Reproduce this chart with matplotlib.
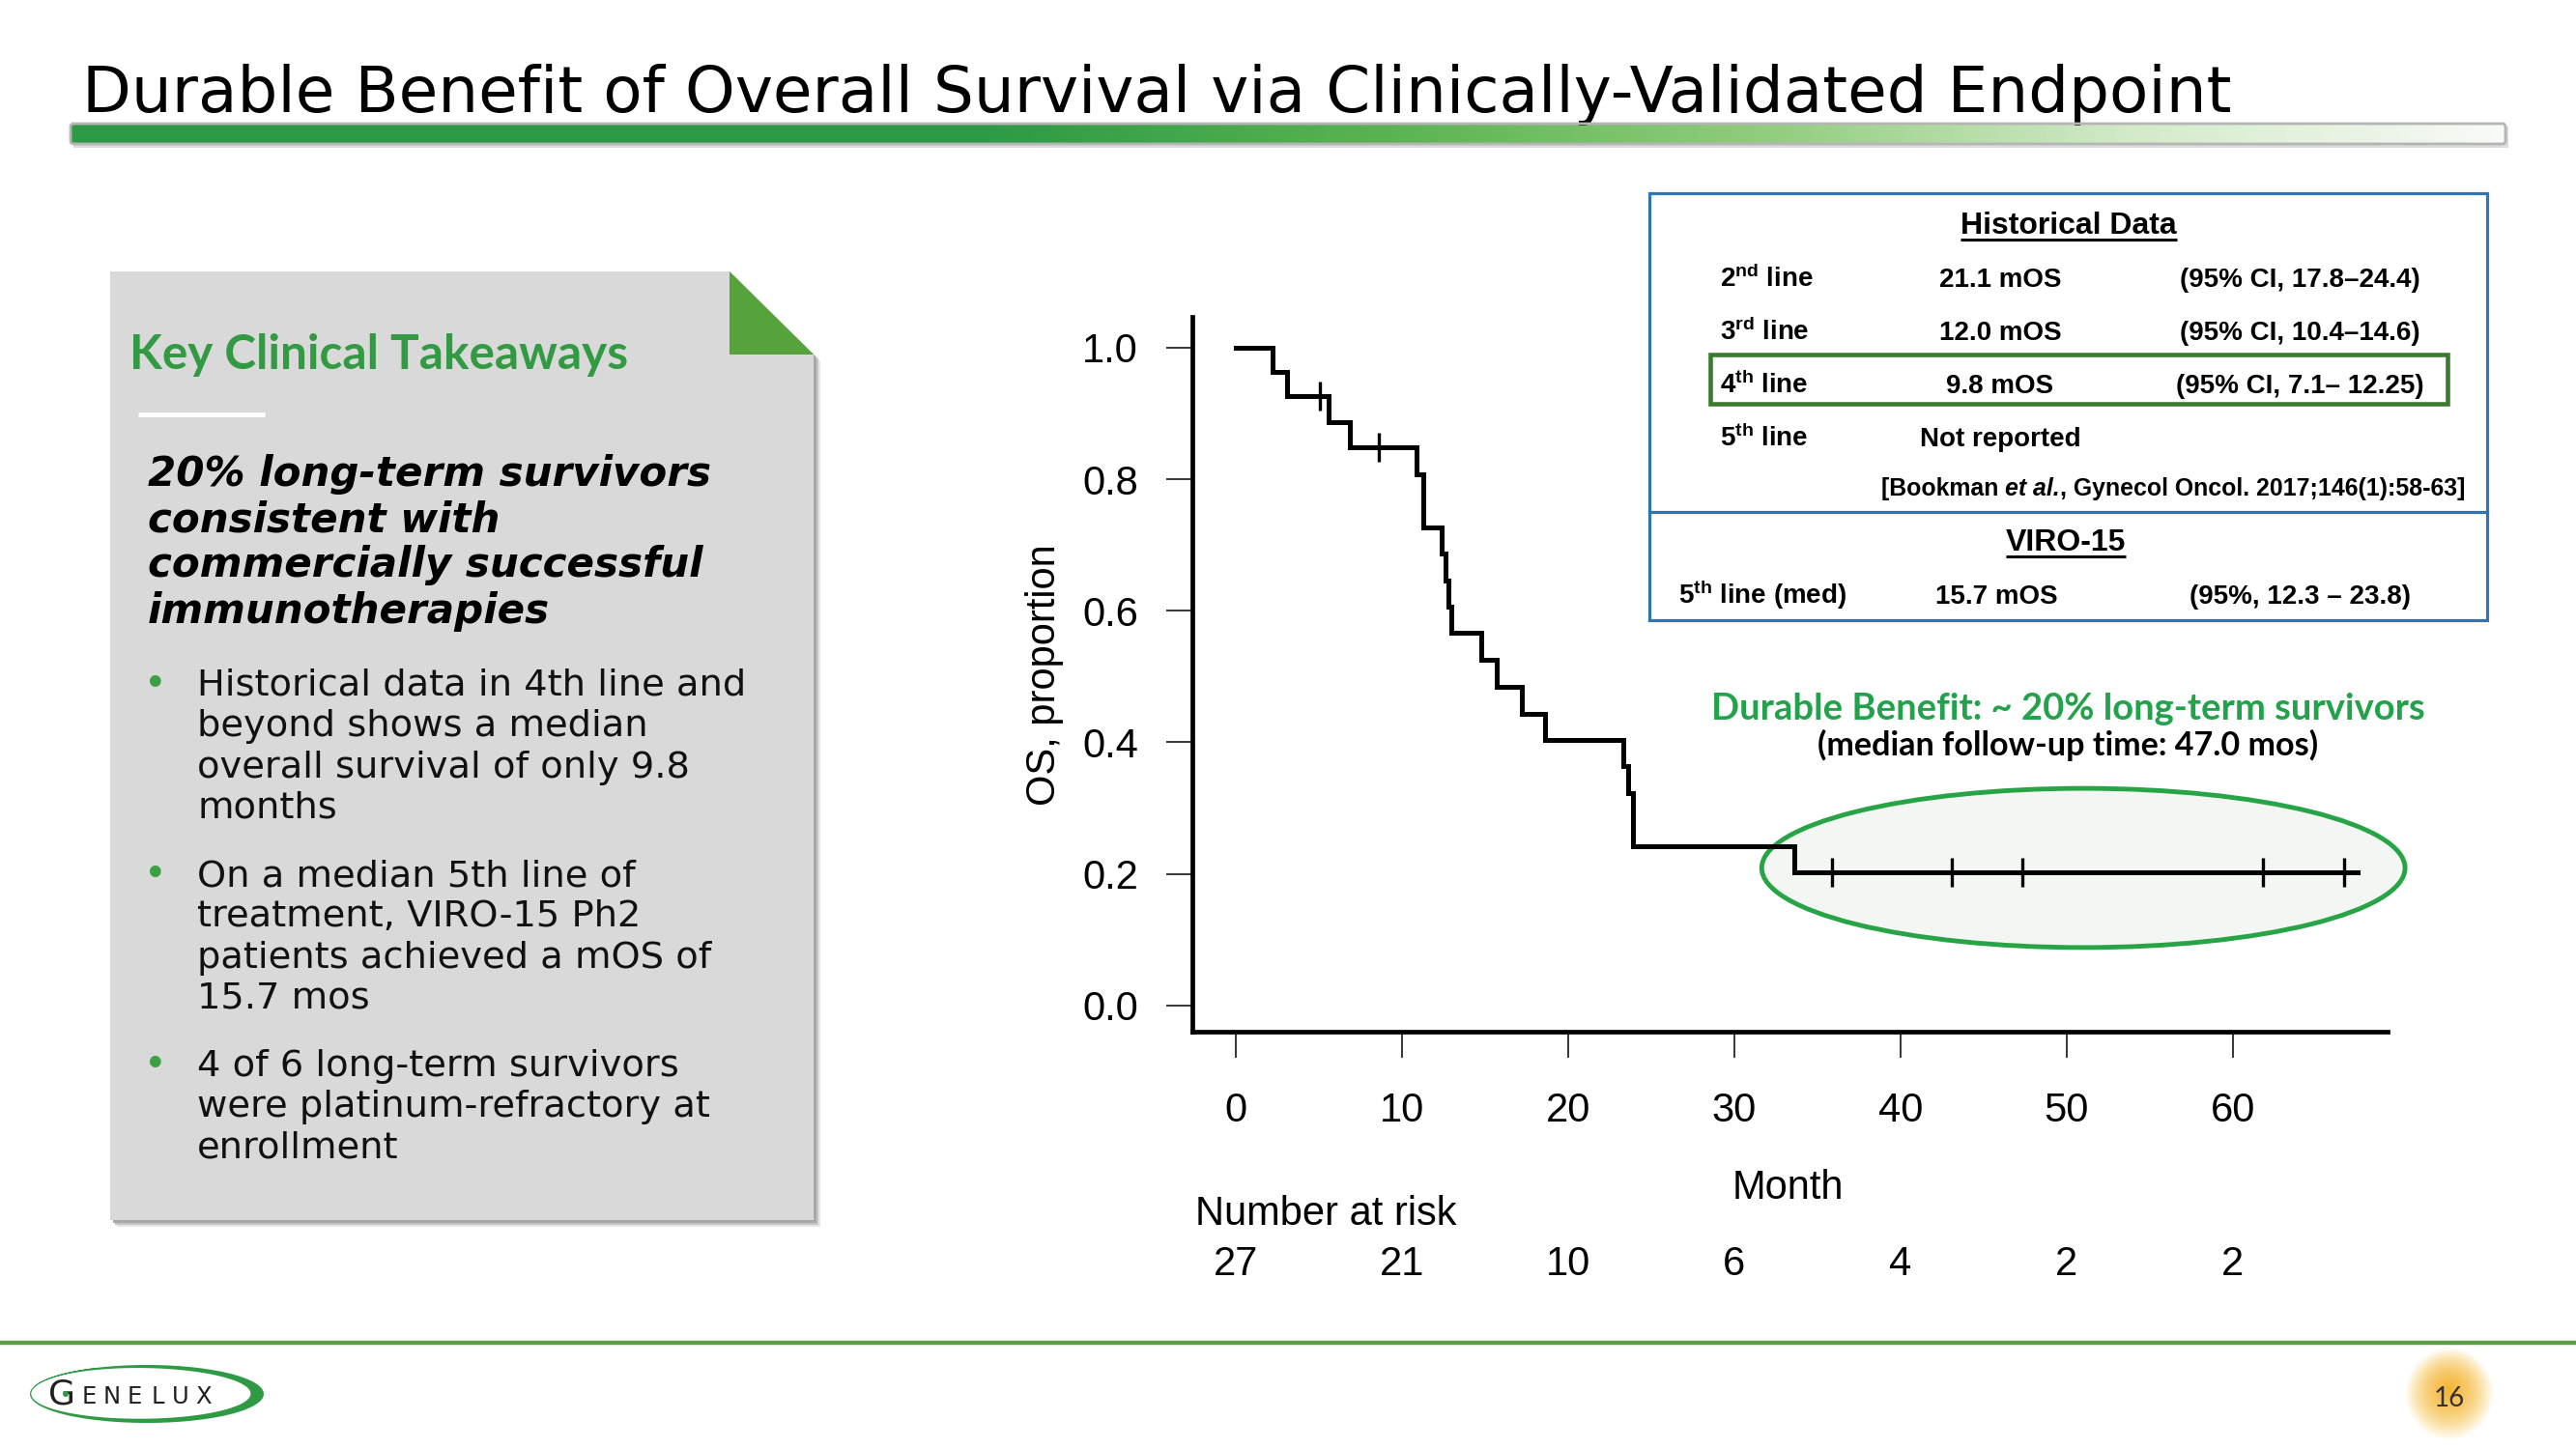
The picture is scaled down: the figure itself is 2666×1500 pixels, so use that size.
import numpy as np
import matplotlib
matplotlib.use('Agg')
import matplotlib.pyplot as plt
from matplotlib.patches import Polygon, Rectangle, Ellipse, FancyBboxPatch
from matplotlib.colors import LinearSegmentedColormap, to_rgb
from matplotlib.transforms import blended_transform_factory

plt.rcParams['font.family'] = 'Liberation Sans'
plt.rcParams['mathtext.fontset'] = 'custom'
plt.rcParams['mathtext.rm'] = 'Liberation Sans:bold'
plt.rcParams['mathtext.it'] = 'Liberation Sans:italic:bold'
plt.rcParams['mathtext.bf'] = 'Liberation Sans:bold'

# ---- data ----
title = "Durable Benefit of Overall Survival via Clinically-Validated Endpoint"
box_title = "Key Clinical Takeaways"
box_head = ["20% long-term survivors", "consistent with",
            "commercially successful", "immunotherapies"]
bullets = [["Historical data in 4th line and", "beyond shows a median",
            "overall survival of only 9.8", "months"],
           ["On a median 5th line of", "treatment, VIRO-15 Ph2",
            "patients achieved a mOS of", "15.7 mos"],
           ["4 of 6 long-term survivors", "were platinum-refractory at",
            "enrollment"]]

# Kaplan-Meier steps (month, OS proportion)
km_time = [0, 2.2, 3.1, 5.6, 6.9, 10.9, 11.3, 12.4, 12.6, 12.8, 13.0, 14.8,
           15.7, 17.2, 18.6, 23.3, 23.6, 23.9, 33.6, 67.5]
km_surv = [1.0, 0.963, 0.926, 0.887, 0.849, 0.808, 0.727, 0.687, 0.646,
           0.606, 0.566, 0.525, 0.485, 0.444, 0.404, 0.364, 0.323, 0.242,
           0.202, 0.202]
censor_time = [5.1, 8.6, 35.9, 43.1, 47.3, 61.8, 66.7]

risk_months = [0, 10, 20, 30, 40, 50, 60]
at_risk = [27, 21, 10, 6, 4, 2, 2]
y_ticks = [0.0, 0.2, 0.4, 0.6, 0.8, 1.0]

hist_line = [r'2$^{\mathrm{nd}}$ line', r'3$^{\mathrm{rd}}$ line',
             r'4$^{\mathrm{th}}$ line', r'5$^{\mathrm{th}}$ line']
hist_mos = ['21.1 mOS', '12.0 mOS', '9.8 mOS', 'Not reported']
hist_ci = ['(95% CI, 17.8\u201324.4)', '(95% CI, 10.4\u201314.6)',
           '(95% CI, 7.1\u2013 12.25)', '']
citation = [('[Bookman ', 'normal'), ('et al.', 'italic'),
            (', Gynecol Oncol. 2017;146(1):58-63]', 'normal')]
viro_row = [r'5$^{\mathrm{th}}$ line (med)', '15.7 mOS', '(95%, 12.3 \u2013 23.8)']

durable_txt = "Durable Benefit: ~ 20% long-term survivors"
followup_txt = "(median follow-up time: 47.0 mos)"

W, H = 2666, 1500
fig = plt.figure(figsize=(W / 100, H / 100), dpi=100)
renderer = fig.canvas.get_renderer()

ax0 = fig.add_axes([0, 0, 1, 1], zorder=0)
ax0.set_xlim(0, W)
ax0.set_ylim(H, 0)
ax0.axis('off')


def fit(ax, x, y, s, width, **kw):
    # scale font so the text spans the given pixel width
    t = ax.text(x, y, s, fontsize=20, **kw)
    w = t.get_window_extent(renderer).width
    t.set_fontsize(20 * width / w)
    return t


def underline(t, dy, lw=2.2):
    bb = t.get_window_extent(renderer).transformed(ax0.transData.inverted())
    x0, x1 = bb.x0, bb.x1
    y = t.get_position()[1] + dy
    ax0.plot([x0, x1], [y, y], color='black', lw=lw, solid_capstyle='butt')


# ---- title and bar ----
fit(ax0, 85, 116, title, 2224, family='DejaVu Sans', va='baseline', color='black')
bar_cmap = LinearSegmentedColormap.from_list(
    'bar', [(0, '#2d9a46'), (0.38, '#2e9b46'), (0.55, '#5db553'),
            (0.7, '#93cd80'), (0.85, '#d4ebca'), (1, '#f8faf7')])
ax0.add_patch(Rectangle((76, 131), 2520, 22, fc='#dcdcdc', ec='none', zorder=1))
ax0.imshow(np.linspace(0, 1, 600)[None, :], cmap=bar_cmap,
           extent=(73, 2593, 149, 128), aspect='auto', zorder=2)
ax0.add_patch(FancyBboxPatch((73, 128), 2520, 21,
                             boxstyle='round,pad=0,rounding_size=3',
                             fc='none', ec='#b5b5b5', lw=2, zorder=3))

# ---- left takeaway box ----
box = [(114, 281), (755, 281), (842, 367), (842, 1263), (114, 1263)]
for off, c in [(7, '#e6e6e6'), (5, '#c4c4c4'), (3, '#a8a8a8')]:
    ax0.add_patch(Polygon([(x + off, y + off) for x, y in box], fc=c, ec='none', zorder=1))
ax0.add_patch(Polygon(box, fc='#d9d9d9', ec='none', zorder=2))
ax0.add_patch(Polygon([(755, 281), (755, 367), (842, 367)], fc='#56a23b', ec='none', zorder=3))

fit(ax0, 134, 382, box_title, 515, family='Lato', weight='bold',
    color='#329a42', va='baseline', zorder=4)
ax0.plot([143, 274], [429, 429], color='white', lw=3.6, zorder=4,
         solid_capstyle='butt')

t = fit(ax0, 153, 597, box_head[2], 575, family='DejaVu Sans', weight='bold',
        style='italic', va='baseline', zorder=4)
head_size = t.get_fontsize()
for i, line in enumerate(box_head):
    if i == 2:
        continue
    ax0.text(153, 503 + i * 47.3, line, fontsize=head_size, family='DejaVu Sans',
             weight='bold', style='italic', va='baseline', zorder=4)

t = fit(ax0, 204, 720, bullets[0][0], 567, family='DejaVu Sans', va='baseline',
        color='#111111', zorder=4)
bul_size = t.get_fontsize()
starts = [720, 917, 1114]
for b, lines in enumerate(bullets):
    ax0.text(161, starts[b], '\u2022', fontsize=bul_size * 1.05, color='#3ba042',
             ha='center', va='baseline', family='DejaVu Sans', zorder=4)
    for i, line in enumerate(lines):
        if b == 0 and i == 0:
            continue
        ax0.text(204, starts[b] + i * 42.3, line, fontsize=bul_size,
                 family='DejaVu Sans', color='#111111', va='baseline', zorder=4)

# ---- historical data table ----
ax0.add_patch(Rectangle((1707, 200), 867, 442, fc='white', ec='#2e75b6', lw=2.3, zorder=1))
ax0.plot([1707, 2574], [530, 530], color='#2e75b6', lw=2.3, zorder=2)
ax0.add_patch(Rectangle((1770, 367), 763, 51, fc='none', ec='#3b7a2f', lw=3.3, zorder=2))

tsz = 20
t = ax0.text(2141, 242, 'Historical Data', fontsize=23, weight='bold',
             ha='center', va='baseline')
underline(t, 6)
row_y = [297, 352, 407, 462]
for i in range(4):
    ax0.text(1780, row_y[i], hist_line[i], fontsize=tsz, weight='bold', va='baseline')
    ax0.text(2070, row_y[i], hist_mos[i], fontsize=tsz, weight='bold',
             ha='center', va='baseline')
    ax0.text(2380, row_y[i], hist_ci[i], fontsize=tsz, weight='bold',
             ha='center', va='baseline')

# citation drawn piece by piece so the italic part sits tight
pieces = [ax0.text(0, 513, p, fontsize=20, weight='bold', style=st, va='baseline')
          for p, st in citation]
total = sum(p.get_window_extent(renderer).width for p in pieces)
csz = 20 * 605 / total
xpos = 1947
for p in pieces:
    p.set_fontsize(csz)
    p.set_x(xpos)
    xpos += p.get_window_extent(renderer).width

t = ax0.text(2138, 570, 'VIRO-15', fontsize=23, weight='bold', ha='center', va='baseline')
underline(t, 6)
ax0.text(1737, 625, viro_row[0], fontsize=tsz, weight='bold', va='baseline')
ax0.text(2066, 625, viro_row[1], fontsize=tsz, weight='bold', ha='center', va='baseline')
ax0.text(2380, 625, viro_row[2], fontsize=tsz, weight='bold', ha='center', va='baseline')

fit(ax0, 2140, 745, durable_txt, 738, family='Lato', weight='bold',
    color='#22a24a', ha='center', va='baseline')
fit(ax0, 2140, 782, followup_txt, 519, family='Lato', weight='bold',
    color='black', ha='center', va='baseline')

# ---- KM plot ----
ax = fig.add_axes([1234 / W, 1 - 1068 / H, (2471 - 1234) / W, (1068 - 328) / H], zorder=2)
ax.set_facecolor('none')
ax.add_patch(Ellipse((51.0, 0.209), 38.7, 0.242, fc='#f3f6f2', ec='#27a546',
                     lw=3.5, zorder=1, clip_on=False))
ax.step(km_time, km_surv, where='post', color='black', lw=3.6, zorder=3,
        solid_joinstyle='miter')
cens_surv = [km_surv[np.searchsorted(km_time, c, side='right') - 1] for c in censor_time]
ax.plot(censor_time, cens_surv, ls='none', marker='|', ms=22, mew=2.4,
        color='black', zorder=4)

ax.set_xlim(-2.6, 69.3)
ax.set_ylim(-0.04, 1.047)
for s in ['top', 'right']:
    ax.spines[s].set_visible(False)
for s in ['left', 'bottom']:
    ax.spines[s].set_linewidth(3.4)
ax.set_xticks(risk_months)
ax.set_xticklabels([str(m) for m in risk_months], fontsize=30)
ax.set_yticks(y_ticks)
ax.set_yticklabels(['%.1f' % v for v in y_ticks], fontsize=30)
ax.tick_params(axis='y', direction='out', length=19.5, width=1.1, pad=21)
ax.tick_params(axis='x', direction='out', length=19.5, width=1.1, pad=25)

ax.text(-0.1237, 0.499, 'OS, proportion', transform=ax.transAxes, rotation=90,
        ha='center', va='center', fontsize=30)
tr = blended_transform_factory(ax.transData, ax.transAxes)
ax.text(33.2, -0.219, 'Month', transform=tr, ha='center', va='center', fontsize=30)
ax.text(-2.44, -0.256, 'Number at risk', transform=tr, ha='left', va='center', fontsize=30)
for m, n in zip(risk_months, at_risk):
    ax.text(m, -0.326, str(n), transform=tr, ha='center', va='center', fontsize=30)

# ---- footer ----
ax0.plot([0, W], [1390, 1390], color='#5b9e46', lw=3.2)

# logo swoosh
th = np.radians(np.linspace(165, -245, 200))
s = np.linspace(0, 1, th.size)
ox, oy = 152 + 121 * np.cos(th), 1443 - 30 * np.sin(th)
ix, iy = 146 + 113 * np.cos(th), 1443 - 25.5 * np.sin(th)
f = np.sin(np.pi * s) ** 0.6
ix, iy = ox + (ix - ox) * f, oy + (iy - oy) * f
ax0.add_patch(Polygon(np.column_stack([np.r_[ox, ix[::-1]], np.r_[oy, iy[::-1]]]),
                      fc='#2f9a44', ec='none', zorder=2))
ax0.text(64, 1454, 'G', fontsize=26, family='DejaVu Sans', color='#231f20',
         ha='center', va='baseline', zorder=3)
ax0.add_patch(Ellipse((68, 1443), 6, 6, fc='#2f9a44', ec='none', zorder=4))
for i, ch in enumerate('ENELUX'):
    ax0.text(92 + i * 23.7, 1453, ch, fontsize=17.5, family='DejaVu Sans',
             color='#231f20', ha='center', va='baseline', zorder=3)

# page number badge
n = 200
yy, xx = np.mgrid[-1:1:n * 1j, -1:1:n * 1j]
r = np.sqrt(xx ** 2 + (yy + 0.1) ** 2)
c0, c1 = np.array(to_rgb('#f4b02c')), np.array(to_rgb('#fbe3a3'))
mix = np.clip(r, 0, 1)[..., None]
img = np.ones((n, n, 4))
img[..., :3] = c0 * (1 - mix) + c1 * mix
img[..., 3] = np.clip(1 - np.sqrt(xx ** 2 + yy ** 2) ** 4, 0, 1) * 0.95
ax0.imshow(img, extent=(2489, 2581, 1491, 1395), aspect='auto', zorder=2)
ax0.text(2535, 1448, '16', fontsize=20, family='Lato', color='#333333',
         ha='center', va='center', zorder=3)

ax0.set_xlim(0, W)
ax0.set_ylim(H, 0)

fig.savefig('out.png', dpi=100)
